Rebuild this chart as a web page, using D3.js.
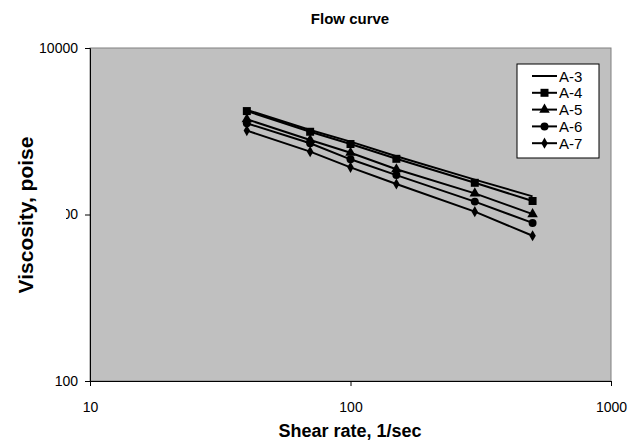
<!DOCTYPE html>
<html><head><meta charset="utf-8">
<script src="https://cdn.jsdelivr.net/npm/d3@7"></script>
<style>body{margin:0;background:#fff;}svg{display:block;font-family:"Liberation Sans",Arial,sans-serif;}</style>
</head><body>
<script>
const shearRates = [40, 70, 100, 150, 300, 500];
const seriesNames = ["A-3", "A-4", "A-5", "A-6", "A-7"];
const a3 = [4250, 3220, 2740, 2240, 1620, 1285];
const a4 = [4180, 3140, 2650, 2160, 1550, 1205];
const a5 = [3730, 2800, 2350, 1870, 1340, 1005];
const a6 = [3530, 2680, 2145, 1725, 1195, 890];
const a7 = [3190, 2385, 1920, 1525, 1040, 745];
const xTicks = [10, 100, 1000];
const yTicks = [100, 1000, 10000];
const markers = ["none", "square", "triangle", "circle", "diamond"];
const seriesValues = [a3, a4, a5, a6, a7];

const W = 629, H = 444;
const m = {l: 90, r: 611, t: 48, b: 381};
const svg = d3.select("body").append("svg").attr("width", W).attr("height", H);

const x = d3.scaleLog().domain([10, 1000]).range([m.l, m.r]);
const y = d3.scaleLog().domain([100, 10000]).range([m.b, m.t]);

svg.append("rect").attr("x", m.l).attr("y", m.t).attr("width", m.r - m.l).attr("height", m.b - m.t)
  .attr("fill", "#c0c0c0").attr("stroke", "#808080").attr("stroke-width", 1);

const xAxis = svg.append("g").attr("transform", `translate(0,${m.b})`)
  .call(d3.axisBottom(x).tickValues(xTicks).tickFormat(d3.format("d")).tickSize(5).tickPadding(16));
const yAxis = svg.append("g").attr("transform", `translate(${m.l},0)`)
  .call(d3.axisLeft(y).tickValues(yTicks).tickFormat(d3.format("d")).tickSize(5).tickPadding(7));
[xAxis, yAxis].forEach(g => {
  g.select(".domain").attr("stroke", "#000").attr("stroke-width", 1);
  g.selectAll(".tick line").attr("stroke", "#000");
  g.selectAll(".tick text").attr("font-size", 14).attr("fill", "#000")
    .attr("font-family", "'Liberation Sans', Arial, sans-serif");
});

const line = d3.line().x((d, i) => x(shearRates[i])).y(d => y(d));
const sym = {
  square: d3.symbol().type(d3.symbolSquare).size(64),
  triangle: d3.symbol().type(d3.symbolTriangle).size(48),
  circle: d3.symbol().type(d3.symbolCircle).size(50),
  diamond: d3.symbol().type(d3.symbolDiamond).size(36)
};

seriesValues.forEach((vals, si) => {
  svg.append("path").attr("d", line(vals)).attr("fill", "none").attr("stroke", "#000").attr("stroke-width", 2);
  if (markers[si] !== "none") {
    svg.selectAll(null).data(vals).enter().append("path")
      .attr("transform", (d, i) => `translate(${x(shearRates[i])},${y(d)})`)
      .attr("d", sym[markers[si]]()).attr("fill", "#000");
  }
});

// legend
const lg = svg.append("g");
lg.append("rect").attr("x", 517).attr("y", 64).attr("width", 82).attr("height", 94)
  .attr("fill", "#fff").attr("stroke", "#000").attr("stroke-width", 1);
seriesNames.forEach((n, i) => {
  const cy = 76 + i * 16.8;
  lg.append("line").attr("x1", 532).attr("x2", 557).attr("y1", cy).attr("y2", cy)
    .attr("stroke", "#000").attr("stroke-width", 2);
  if (markers[i] !== "none") {
    lg.append("path").attr("transform", `translate(544.5,${cy})`).attr("d", sym[markers[i]]()).attr("fill", "#000");
  }
  lg.append("text").attr("x", 559).attr("y", cy + 5.5).attr("font-size", 15).text(n);
});

// titles
svg.append("text").attr("x", 350).attr("y", 24).attr("text-anchor", "middle")
  .attr("font-size", 15).attr("font-weight", "bold").text("Flow curve");
svg.append("text").attr("x", 350).attr("y", 437).attr("text-anchor", "middle")
  .attr("font-size", 18).attr("font-weight", "bold").text("Shear rate, 1/sec");
svg.append("rect").attr("x", 0).attr("y", 125).attr("width", 66).attr("height", 180).attr("fill", "#fff");
svg.append("text").attr("transform", "translate(33,215) rotate(-90)").attr("text-anchor", "middle")
  .attr("font-size", 21).attr("font-weight", "bold").text("Viscosity, poise");
</script>
</body></html>
